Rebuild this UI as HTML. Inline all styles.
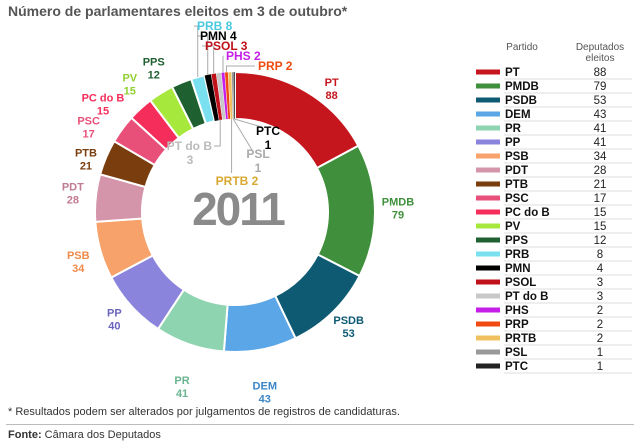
<!DOCTYPE html>
<html><head><meta charset="utf-8">
<style>
body{margin:0;background:#fff;font-family:"Liberation Sans",sans-serif;}
#wrap{position:relative;width:640px;height:447px;overflow:hidden;}
.t{position:absolute;white-space:nowrap;}
</style></head>
<body>
<div id="wrap">
<div class="t" style="left:8px;top:3px;font-size:14px;font-weight:bold;color:#555">Número de parlamentares eleitos em 3 de outubro*</div>
<svg id="svg" width="640" height="447" style="position:absolute;left:0;top:0"></svg>
<div class="t" style="left:8px;top:406px;font-size:11px;color:#333">* Resultados podem ser alterados por julgamentos de registros de candidaturas.</div>
<div style="position:absolute;left:6px;top:424px;width:628px;height:1px;background:#bbb"></div>
<div class="t" style="left:8px;top:429px;font-size:11px;color:#333"><b>Fonte:</b> Câmara dos Deputados</div>
</div>
<script>
const parties=["PT","PMDB","PSDB","DEM","PR","PP","PSB","PDT","PTB","PSC","PC do B","PV","PPS","PRB","PMN","PSOL","PT do B","PHS","PRP","PRTB","PSL","PTC"];
const seats=[88,79,53,43,41,41,34,28,21,17,15,15,12,8,4,3,3,2,2,2,1,1];
const colors=["#c4161c","#3f8f3c","#0e5a73","#5aa6e6","#8fd4b0","#8a84dc","#f7a26a","#d494aa","#7a3e0e","#e8507a","#f52d5a","#a6e83c","#1e6030","#7ae0f0","#000000","#c0101a","#c8c8c8","#c41ee8","#f04a10","#f0c060","#999999","#222222"];
const labelColors=["#c4161c","#3f8f3c","#0e5a73","#3a86c6","#6ab490","#6a64bc","#f08a4a","#c07a94","#7a3e0e","#e8507a","#f52d5a","#90d030","#1e6030","#4ac8e0","#000","#c0101a","#bbb","#c41ee8","#f04a10","#d8a830","#aaa","#000"];
const NS="http://www.w3.org/2000/svg";
const svg=document.getElementById('svg');
const cx=235,cy=212,R=140,r=93;
const total=seats.reduce((a,b)=>a+b,0);
function ang(v){return v/total*2*Math.PI;}
function pt(a,rad){return [cx+rad*Math.sin(a),cy-rad*Math.cos(a)];}
function mk(tag,attrs){const e=document.createElementNS(NS,tag);for(const k in attrs)e.setAttribute(k,attrs[k]);svg.appendChild(e);return e;}
// label layout nudges (styling only)
const nudge={0:[13,19],3:[0,22],4:[0,23],6:[0,7],8:[1,13],9:[-15,14],10:[-22,15],11:[-19,13],12:[-19,9]};
let acc=0;
const small={13:[197,30,"start",0,0],14:[200,40,"start",0,0],15:[205,50,"start",0,0],17:[226,60,"start",0,0],18:[258,70,"start",0,0],
16:[212,150,"end",1,1],19:[237,185,"middle",0,1],20:[258,158,"middle",1,1],21:[268,135,"middle",1,1]};
seats.forEach((v,i)=>{
  const a0=ang(acc),a1=ang(acc+v);acc+=v;
  const [x0,y0]=pt(a0,R),[x1,y1]=pt(a1,R),[x2,y2]=pt(a1,r),[x3,y3]=pt(a0,r);
  const lg=(a1-a0)>Math.PI?1:0;
  const p=mk('path',{d:`M${x0},${y0}A${R},${R} 0 ${lg} 1 ${x1},${y1}L${x2},${y2}A${r},${r} 0 ${lg} 0 ${x3},${y3}Z`,fill:colors[i],stroke:'#fff','stroke-width':v>5?2:0.4});
  
  
  const am=(a0+a1)/2;
  if(small[i]){
    const [lx,ly,anc,two,inside]=small[i];
    let pts;
    if(!inside){
      const [ex,ey]=pt(am,R);
      pts=`${lx-3},${ly-4} ${ex},${ly-4} ${ex},${ey}`;
    } else {
      const [ex,ey]=pt(am,r);
      if(i==16) pts=`${lx+2},${ly-4} ${ex-4},${ly-4} ${ex-4},${ey}`;
      else if(i==19) pts=`${ex},${ly-12} ${ex},${ey}`;
      else pts=`${lx-6},${ly-8} ${ex},${ey}`;
    }
    const ln=mk('polyline',{points:pts,fill:'none',stroke:'#aaa','stroke-width':1});
    
    
    const t=mk('text',{x:lx,y:ly,'text-anchor':anc,'font-size':12,'font-weight':'bold',fill:labelColors[i],'font-family':'Liberation Sans, sans-serif'});
    
    
    if(two){const tx=anc==="end"?lx-22:lx;t.innerHTML=`<tspan x="${lx}">${parties[i]}</tspan><tspan x="${tx}" text-anchor="middle" dy="14">${v}</tspan>`;}
    else t.textContent=parties[i]+" "+v;
  } else {
    let [lx,ly]=pt(am,163);
    const n=nudge[i]||[0,0];
    lx+=n[0];ly+=n[1];
    const t=mk('text',{x:lx,y:ly-5,'text-anchor':'middle','font-size':11,'font-weight':'bold',fill:labelColors[i],'font-family':'Liberation Sans, sans-serif'});
    
    
    t.innerHTML=`<tspan x="${lx}">${parties[i]}</tspan><tspan x="${lx}" dy="13">${i==5?40:v}</tspan>`;
  }
});
const yr=mk('text',{x:cx+3,y:225,'text-anchor':'middle','font-size':46,'font-weight':'bold',fill:'#8a8a8a','font-family':'Liberation Sans, sans-serif','letter-spacing':'-2'});
yr.textContent="2011";


// legend
const h1=mk('text',{x:522,y:50,'text-anchor':'middle','font-size':10,fill:'#555','font-family':'Liberation Sans, sans-serif'});h1.textContent="Partido";

const h2=mk('text',{x:600,y:50,'text-anchor':'middle','font-size':10,fill:'#555','font-family':'Liberation Sans, sans-serif'});h2.innerHTML='<tspan x="600">Deputados</tspan><tspan x="600" dy="11">eleitos</tspan>';

parties.forEach((p,i)=>{
  const y=72+i*14;
  const s=mk('rect',{x:476,y:y-2.5,width:24,height:5,fill:colors[i]});
  
  const t=mk('text',{x:505,y:y+4,'font-size':11.5,'font-weight':'bold',fill:'#111','font-family':'Liberation Sans, sans-serif'});t.textContent=p;
  
  const n=mk('text',{x:600,y:y+4,'text-anchor':'middle','font-size':11.5,fill:'#222','font-family':'Liberation Sans, sans-serif'});n.textContent=seats[i];
  
  const l=mk('line',{x1:504,x2:632,y1:y+7,y2:y+7,stroke:'#ddd','stroke-width':1});
  
});
</script>
</body></html>
